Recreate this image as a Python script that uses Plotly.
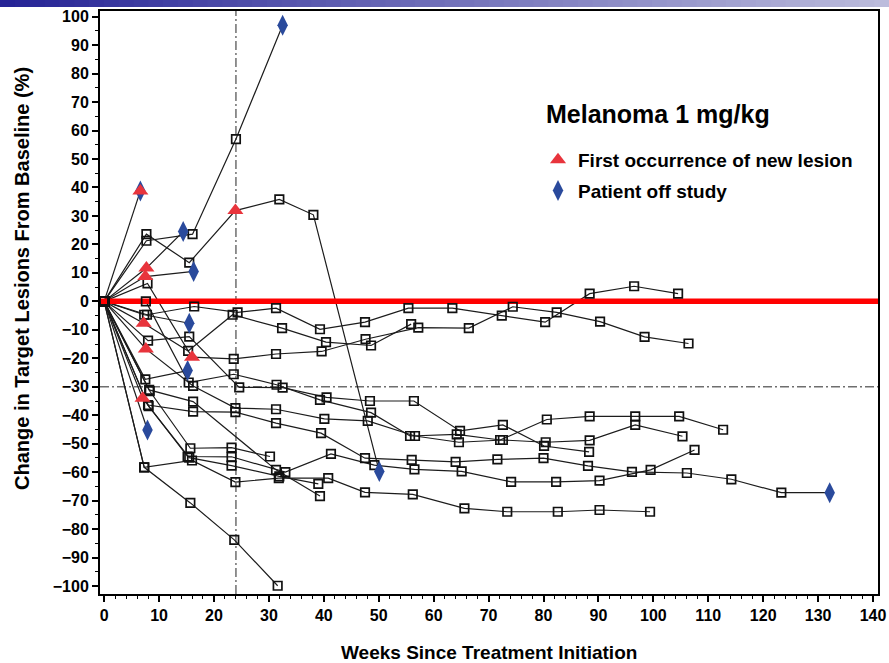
import plotly.graph_objects as go

# ---------------- data (weeks since treatment initiation, % change) ----------------
weeks_01 = [0, 6.6]
pct_01 = [0, 38.8]
weeks_02 = [0, 7.7, 16.1, 24.0, 32.5]
pct_02 = [0, 21.3, 23.6, 57.0, 97.0]
weeks_03 = [0, 7.7, 15.5, 23.9, 31.9, 38.1, 50.1]
pct_03 = [0, 23.6, 13.6, 31.9, 35.8, 30.4, -59.8]
weeks_04 = [0, 7.7, 14.4]
pct_04 = [0, 11.7, 24.5]
weeks_05 = [0, 7.5, 16.3]
pct_05 = [0, 8.7, 10.5]
weeks_06 = [0, 7.8, 16.4, 24.3, 31.3, 39.3, 47.5, 55.4, 63.4, 72.4, 80.3, 88.4, 96.5, 104.5]
pct_06 = [0, -4.7, -1.8, -3.9, -2.4, -9.8, -7.3, -2.4, -2.4, -5.0, -7.3, 2.7, 5.3, 2.7]
weeks_07 = [0, 7.3, 15.5]
pct_07 = [0, -4.7, -7.7]
weeks_08 = [0, 7.2, 15.3, 23.4, 32.4, 40.4, 48.6, 55.9]
pct_08 = [0, -7.7, -17.4, -4.7, -9.4, -14.3, -15.5, -8.0]
weeks_09 = [0, 7.9, 16.0, 23.6, 31.3, 39.6, 47.6, 57.2, 66.4, 74.4, 82.4, 90.3, 98.4, 106.4]
pct_09 = [0, 6.3, -19.6, -20.2, -18.5, -17.6, -13.3, -9.2, -9.4, -1.9, -3.9, -7.1, -12.5, -14.8]
weeks_10 = [0, 8.0, 15.5, 24.6, 32.5, 40.5, 48.4, 56.4, 64.8, 72.6, 80.1, 88.3]
pct_10 = [0, -13.8, -12.4, -30.2, -30.3, -33.7, -35.0, -35.0, -45.5, -43.4, -50.8, -52.9]
weeks_11 = [0, 7.6, 15.4, 23.6, 31.4, 39.3, 48.6, 55.7, 64.2, 72.1, 80.6, 88.4, 96.7, 104.7, 112.7]
pct_11 = [0, 0.0, -28.5, -25.6, -29.3, -34.6, -39.1, -47.3, -46.7, -48.7, -41.5, -40.4, -40.4, -40.4, -45.1]
weeks_12 = [0, 7.5, 15.2]
pct_12 = [0, -27.4, -24.3]
weeks_13 = [0, 7.6, 16.2, 23.9, 31.3, 40.1, 48.0, 56.6, 64.6, 72.6, 80.4, 88.4, 96.7, 105.3]
pct_13 = [0, -16.7, -29.7, -37.5, -37.9, -41.3, -42.0, -47.3, -49.5, -48.7, -49.5, -48.8, -43.4, -47.4]
weeks_14 = [0, 8.2, 16.2, 31.3, 39.3]
pct_14 = [0, -31.1, -35.2, -59.2, -68.4]
weeks_15 = [0, 8.0, 16.2, 23.9, 31.3, 39.5, 47.5, 56.0, 64.0, 71.6, 80.0, 88.1, 96.1, 106.1, 114.2, 123.3, 132.1]
pct_15 = [0, -36.4, -38.7, -38.9, -42.8, -46.3, -55.1, -55.7, -56.4, -55.5, -55.1, -57.8, -59.9, -60.3, -62.5, -67.2, -67.2]
weeks_16 = [0, 7.0, 15.2, 23.2, 33.0, 41.3, 49.2, 56.5, 65.1, 74.1, 82.3, 90.2, 99.5, 107.5]
pct_16 = [0, -34.0, -54.5, -54.6, -60.0, -53.6, -57.5, -59.0, -59.7, -63.4, -63.4, -63.0, -59.2, -52.2]
weeks_17 = [0, 7.9]
pct_17 = [0, -45.2]
weeks_18 = [0, 7.3, 15.7, 23.7, 31.6]
pct_18 = [0, -58.3, -70.8, -83.8, -99.9]
weeks_19 = [0, 7.3, 16.0, 23.9, 31.8, 40.8, 47.5, 56.2, 65.6, 73.4, 82.6, 90.2, 99.4]
pct_19 = [0, -58.3, -55.9, -63.5, -62.1, -62.1, -67.1, -67.8, -72.7, -73.9, -73.9, -73.3, -73.9]
weeks_20 = [0, 8.3, 15.7, 23.2, 30.2]
pct_20 = [0, -31.5, -51.6, -51.4, -54.5]
weeks_21 = [0, 8.1, 15.5, 23.2, 31.9, 39.0]
pct_21 = [0, -36.8, -54.9, -57.7, -61.5, -64.1]

# events
new_lesion_weeks = [6.6, 7.7, 7.5, 23.9, 7.2, 7.6, 16.0, 7.0]
new_lesion_pct = [38.8, 11.7, 8.7, 31.9, -7.7, -16.7, -19.6, -34.0]
off_study_weeks = [6.6, 32.5, 14.4, 16.3, 15.5, 15.2, 7.9, 50.1, 132.1]
off_study_pct = [38.8, 97.0, 24.5, 10.5, -7.7, -24.3, -45.2, -59.8, -67.2]

x_ticks = list(range(0, 141, 10))
y_ticks = list(range(-100, 101, 10))
ref_week = 24
ref_pct = -30

X_RANGE = [-0.75, 140.9]
Y_RANGE = [-102.8, 102.0]

patients = [
    (weeks_01, pct_01), (weeks_02, pct_02), (weeks_03, pct_03), (weeks_04, pct_04),
    (weeks_05, pct_05), (weeks_06, pct_06), (weeks_07, pct_07), (weeks_08, pct_08),
    (weeks_09, pct_09), (weeks_10, pct_10), (weeks_11, pct_11), (weeks_12, pct_12),
    (weeks_13, pct_13), (weeks_14, pct_14), (weeks_15, pct_15), (weeks_16, pct_16),
    (weeks_17, pct_17), (weeks_18, pct_18), (weeks_19, pct_19), (weeks_20, pct_20),
    (weeks_21, pct_21),
]

event_pts = set(zip(new_lesion_weeks, new_lesion_pct)) | set(zip(off_study_weeks, off_study_pct))

FONT = "Liberation Sans, Arial, sans-serif"
fig = go.Figure()

# patient lines
for w, p in patients:
    fig.add_trace(go.Scatter(x=w, y=p, mode="lines", line=dict(color="#1c1c1c", width=1.2),
                             showlegend=False, hoverinfo="skip"))

# zero reference line (red)
fig.add_trace(go.Scatter(x=X_RANGE, y=[0, 0], mode="lines", line=dict(color="#ff0000", width=5.5),
                         showlegend=False, hoverinfo="skip"))

# open squares for regular assessments
sq_x, sq_y = [], []
for w, p in patients:
    for a, b in zip(w, p):
        if (a, b) not in event_pts:
            sq_x.append(a)
            sq_y.append(b)
fig.add_trace(go.Scatter(x=sq_x, y=sq_y, mode="markers",
                         marker=dict(symbol="square-open", size=8.5, color="#111111",
                                     line=dict(width=1.7, color="#111111")),
                         showlegend=False, hoverinfo="skip"))

fig.add_trace(go.Scatter(x=off_study_weeks, y=off_study_pct, mode="markers",
                         name="Patient off study", legendrank=2, legendgroup="b",
                         marker=dict(symbol="diamond-tall", size=15, color="#2a4a9c", line=dict(width=0))))
fig.add_trace(go.Scatter(x=new_lesion_weeks, y=new_lesion_pct, mode="markers",
                         name="First occurrence of new lesion", legendrank=1, legendgroup="a",
                         marker=dict(symbol="triangle-up", size=14, color="#e8343c", line=dict(width=0))))

W, H, L, R, T, B = 889, 663, 100, 11, 11, 69
pw, ph = W - L - R, H - T - B


def px_x(px):
    return (px - L) / pw


def px_y(py):
    return (H - B - py) / ph


shapes = [
    dict(type="line", xref="x", yref="paper", x0=ref_week, x1=ref_week, y0=0, y1=1,
         line=dict(color="#6e6e6e", width=1.5, dash="9px,3px,2px,3px"), layer="below"),
    dict(type="line", xref="paper", yref="y", x0=0, x1=1, y0=ref_pct, y1=ref_pct,
         line=dict(color="#6e6e6e", width=1.5, dash="9px,3px,2px,3px"), layer="below"),
]
# slide header gradient bar
N = 60
c0 = (0x26, 0x24, 0x96)
c1 = (0xbc, 0xbc, 0xdc)
for i in range(N):
    f = i / (N - 1)
    col = "rgb(%d,%d,%d)" % tuple(int(c0[k] + (c1[k] - c0[k]) * f) for k in range(3))
    shapes.append(dict(type="rect", xref="paper", yref="paper",
                       x0=px_x(W * i / N), x1=px_x(W * (i + 1) / N) + 0.002,
                       y0=px_y(7), y1=px_y(0),
                       fillcolor=col, line=dict(width=0), layer="above"))

fig.update_layout(
    width=W, height=H,
    margin=dict(l=L, r=R, t=T, b=B, autoexpand=False),
    paper_bgcolor="white", plot_bgcolor="white",
    shapes=shapes,
    font=dict(family=FONT, color="black"),
    showlegend=True,
    legend=dict(x=px_x(538), y=px_y(141), xanchor="left", yanchor="top",
                bgcolor="rgba(0,0,0,0)", traceorder="grouped", tracegroupgap=3,
                font=dict(family=FONT, size=19, weight="bold", color="black")),
    xaxis=dict(range=X_RANGE, automargin=False, tickmode="array", tickvals=x_ticks, ticks="outside",
               ticklen=6, tickwidth=1.5,
               tickcolor="black", showgrid=False, zeroline=False, showline=True, linewidth=2, linecolor="black",
               mirror=True, tickfont=dict(family=FONT, size=16, weight="bold", color="black"),
               minor=dict(dtick=2, ticks="outside", ticklen=3, tickwidth=1.2, tickcolor="black")),
    yaxis=dict(range=Y_RANGE, automargin=False, tickmode="array", tickvals=y_ticks, ticks="outside",
               ticklen=6, tickwidth=1.5,
               tickcolor="black", showgrid=False, zeroline=False, showline=True, linewidth=2, linecolor="black",
               mirror=True, tickfont=dict(family=FONT, size=16, weight="bold", color="black"),
               minor=dict(dtick=5, ticks="outside", ticklen=3, tickwidth=1.2, tickcolor="black")),
    annotations=[
        dict(text="Change in Target Lesions From Baseline (%)", textangle=-90, showarrow=False,
             xref="paper", yref="paper", x=px_x(22), y=px_y(279),
             xanchor="center", yanchor="middle",
             font=dict(family=FONT, size=20, weight="bold", color="black")),
        dict(text="Weeks Since Treatment Initiation", showarrow=False,
             xref="paper", yref="paper", x=px_x(489), y=px_y(652),
             xanchor="center", yanchor="middle",
             font=dict(family=FONT, size=19, weight="bold", color="black")),
        dict(text="Melanoma 1 mg/kg", showarrow=False,
             xref="paper", yref="paper", x=px_x(544), y=px_y(114),
             xanchor="left", yanchor="middle",
             font=dict(family=FONT, size=25, weight="bold", color="black")),
    ],
)

fig.write_html("out.html", config={"displayModeBar": False},
               post_script="document.body.style.margin='0';")
